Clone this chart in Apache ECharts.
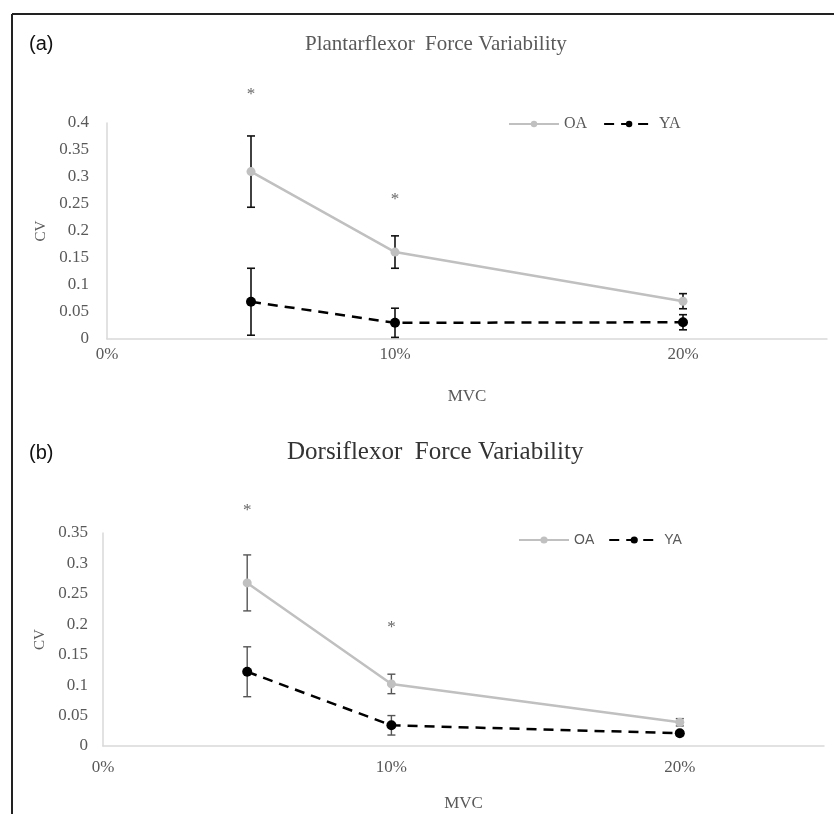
<!DOCTYPE html>
<html>
<head>
<meta charset="utf-8">
<script src="https://cdn.jsdelivr.net/npm/echarts@6/dist/echarts.min.js"></script>
<style>
  html, body { margin: 0; padding: 0; background: #fff; }
  #chart { width: 834px; height: 814px; }
</style>
</head>
<body>
<div id="chart"></div>
<script>
// %MVC levels
var mvc = [0.05, 0.10, 0.20];

// (a) plantarflexor
var plantarOA = [0.310, 0.161, 0.070];
var plantarOAErr = [0.066, 0.030, 0.014];
var plantarYA = [0.069, 0.030, 0.031];
var plantarYAErr = [0.062, 0.027, 0.014];
var plantarStars = [0.461, 0.265]; // at 5% and 10%

// (b) dorsiflexor
var dorsiOA = [0.268, 0.102, 0.039];
var dorsiOAErr = [0.046, 0.016, 0.006];
var dorsiYA = [0.122, 0.034, 0.021];
var dorsiYAErr = [0.041, 0.016, 0.004];
var dorsiStars = [0.393, 0.202];

var serif = "'Liberation Serif', 'DejaVu Serif', serif";
var sans = "'Liberation Sans', Arial, sans-serif";

function pts(ys) {
  return ys.map(function (y, i) { return [mvc[i], y]; });
}
function errPts(ys, es) {
  return ys.map(function (y, i) { return [mvc[i], y, es[i]]; });
}

// vertical error bar with caps
function errorBar(idx, color, width) {
  return {
    type: 'custom',
    xAxisIndex: idx, yAxisIndex: idx,
    z: 3,
    renderItem: function (params, api) {
      var x = api.value(0), y = api.value(1), e = api.value(2);
      var top = api.coord([x, y + e]);
      var bot = api.coord([x, y - e]);
      var hw = 4;
      var st = { stroke: color, lineWidth: width };
      return {
        type: 'group',
        children: [
          { type: 'line', shape: { x1: top[0], y1: top[1], x2: bot[0], y2: bot[1] }, style: st },
          { type: 'line', shape: { x1: top[0] - hw, y1: top[1], x2: top[0] + hw, y2: top[1] }, style: st },
          { type: 'line', shape: { x1: bot[0] - hw, y1: bot[1], x2: bot[0] + hw, y2: bot[1] }, style: st }
        ]
      };
    },
    encode: { x: 0, y: 1 },
    data: []
  };
}

function xAxis(idx, margin) {
  return {
    type: 'value', gridIndex: idx, min: 0, max: 0.25, interval: 0.1,
    name: 'MVC', nameLocation: 'middle', nameGap: 49,
    nameTextStyle: { fontFamily: serif, fontSize: 17, color: '#595959' },
    axisLine: { show: true, lineStyle: { color: '#d9d9d9', width: 1.5 } },
    axisTick: { show: false },
    splitLine: { show: false },
    axisLabel: {
      margin: margin, fontFamily: serif, fontSize: 17, color: '#595959',
      formatter: function (v) {
        var p = Math.round(v * 100);
        return p % 10 === 0 ? p + '%' : '';
      }
    }
  };
}

function yAxis(idx, max, gap, margin) {
  return {
    type: 'value', gridIndex: idx, min: 0, max: max, interval: 0.05,
    name: 'CV', nameLocation: 'middle', nameGap: gap,
    nameTextStyle: { fontFamily: serif, fontSize: 15, color: '#595959' },
    axisLine: { show: true, lineStyle: { color: '#d9d9d9', width: 1.5 } },
    axisTick: { show: false },
    splitLine: { show: false },
    axisLabel: { margin: margin, fontFamily: serif, fontSize: 17, color: '#595959' }
  };
}

function oaLine(idx, data) {
  return {
    name: 'OA', type: 'line', xAxisIndex: idx, yAxisIndex: idx, z: 4,
    data: pts(data), symbol: 'circle', symbolSize: 9,
    itemStyle: { color: '#c0c0c0' },
    lineStyle: { color: '#c0c0c0', width: 2.5 }
  };
}
function yaLine(idx, data) {
  return {
    name: 'YA', type: 'line', xAxisIndex: idx, yAxisIndex: idx, z: 5,
    data: pts(data), symbol: 'circle', symbolSize: 10,
    itemStyle: { color: '#000' },
    lineStyle: { color: '#000', width: 2.5, type: [10, 7] }
  };
}
function stars(idx, ys) {
  return {
    type: 'scatter', xAxisIndex: idx, yAxisIndex: idx, clip: false,
    symbolSize: 1, itemStyle: { color: 'rgba(0,0,0,0)' },
    label: { show: true, position: 'inside', formatter: '*', offset: [0, 4],
      fontFamily: serif, fontSize: 17, color: '#404040' },
    data: ys.map(function (y, i) { return [mvc[i], y]; })
  };
}

var ebA1 = errorBar(0, '#111', 1.6); ebA1.data = errPts(plantarOA, plantarOAErr);
var ebA2 = errorBar(0, '#111', 1.6); ebA2.data = errPts(plantarYA, plantarYAErr);
var ebB1 = errorBar(1, '#555', 1.4); ebB1.data = errPts(dorsiOA, dorsiOAErr);
var ebB2 = errorBar(1, '#555', 1.4); ebB2.data = errPts(dorsiYA, dorsiYAErr);

var chart = echarts.init(document.getElementById('chart'));
chart.setOption({
  animation: false,
  backgroundColor: '#fff',
  title: [
    { text: '(a)', left: 29, top: 34, padding: 0, textStyle: { fontFamily: sans, fontSize: 20, fontWeight: 'normal', color: '#111' } },
    { text: 'Plantarflexor  Force Variability', left: 300, top: 29,
      textStyle: { fontFamily: serif, fontSize: 21, fontWeight: 'normal', color: '#595959' } },
    { text: '(b)', left: 29, top: 443, padding: 0, textStyle: { fontFamily: sans, fontSize: 20, fontWeight: 'normal', color: '#111' } },
    { text: 'Dorsiflexor  Force Variability', left: 282, top: 435,
      textStyle: { fontFamily: serif, fontSize: 25, fontWeight: 'normal', color: '#333' } }
  ],
  legend: [
    { data: ['OA', 'YA'], left: 508, top: 116, padding: 0, itemWidth: 50, itemHeight: 8, itemGap: 16,
      textStyle: { fontFamily: serif, fontSize: 16, color: '#595959' }, selectedMode: false },
    { data: ['OA', 'YA'], left: 518, top: 533, padding: 0, itemWidth: 50, itemHeight: 9, itemGap: 14,
      textStyle: { fontFamily: sans, fontSize: 14, color: '#595959' }, selectedMode: false }
  ],
  grid: [
    { left: 107, right: 7, top: 123, bottom: 475 },
    { left: 103, right: 10, top: 533, bottom: 68 }
  ],
  xAxis: [xAxis(0, 7), xAxis(1, 13)],
  yAxis: [yAxis(0, 0.4, 50, 18), yAxis(1, 0.35, 46, 15)],
  series: [
    ebA1, ebA2, oaLine(0, plantarOA), yaLine(0, plantarYA), stars(0, plantarStars),
    ebB1, ebB2, oaLine(1, dorsiOA), yaLine(1, dorsiYA), stars(1, dorsiStars)
  ],
  graphic: [
    { type: 'line', shape: { x1: 12, y1: 14, x2: 834, y2: 14 }, style: { stroke: '#222', lineWidth: 2 } },
    { type: 'line', shape: { x1: 12, y1: 14, x2: 12, y2: 814 }, style: { stroke: '#222', lineWidth: 2 } }
  ]
});
</script>
</body>
</html>
